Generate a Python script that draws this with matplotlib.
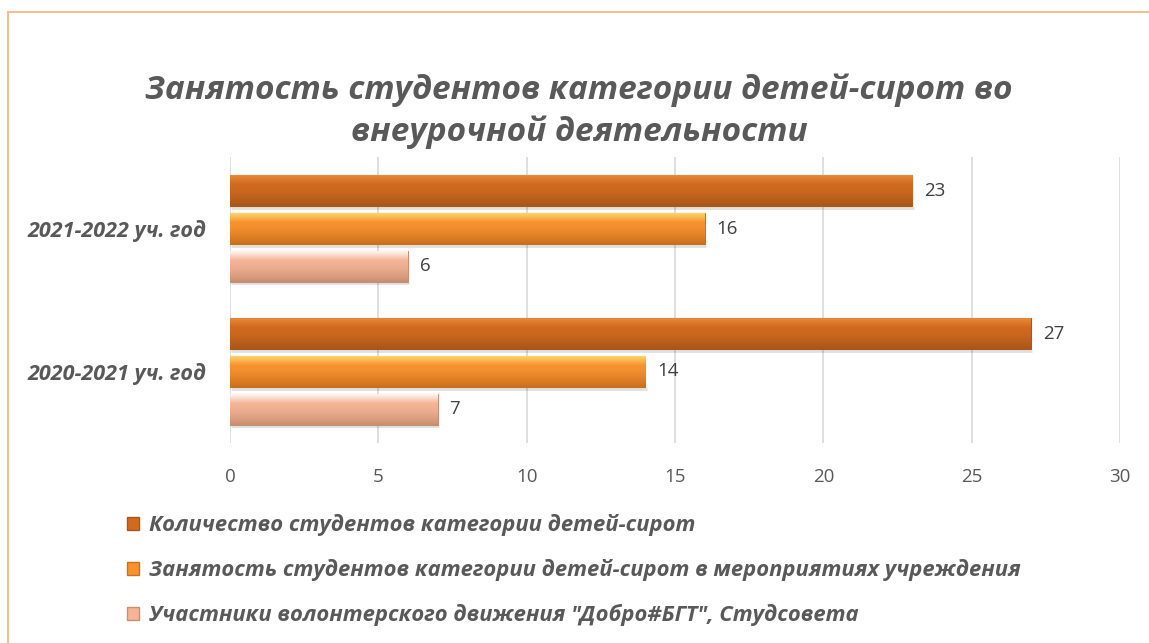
import matplotlib.pyplot as plt
import numpy as np
from matplotlib.patches import Rectangle, Patch
from matplotlib.colors import to_rgb

# data
years = ["2020-2021 уч. год", "2021-2022 уч. год"]
series_names = [
    "Количество студентов категории детей-сирот",
    "Занятость студентов категории детей-сирот в мероприятиях учреждения",
    "Участники волонтерского движения \"Добро#БГТ\", Студсовета",
]
total_orphans = [27, 23]
busy_events = [14, 16]
volunteers = [7, 6]

# colours: (top highlight, base, bottom shade)
shades = [
    ("#E8893A", "#D06A1E", "#A9561A"),
    ("#FFD46A", "#F7922F", "#C9701E"),
    ("#FFF6EC", "#F4B496", "#C98E72"),
]
grey = "#595959"
font = ["Open Sans", "DejaVu Sans"]

fig = plt.figure(figsize=(11.49, 6.43), dpi=100)
ax = fig.add_axes([230 / 1149, 1 - 443 / 643, 890 / 1149, 286 / 643])

# outer frame
fig.add_artist(Rectangle((8 / 1149, -0.1), 1.2, 1 - 12 / 643 + 0.1,
                         transform=fig.transFigure, fill=False,
                         edgecolor="#F7BE91", linewidth=1.5))

y = np.arange(len(years))
offsets = [0.265, 0.0, -0.265]
h = 0.215
all_series = [total_orphans, busy_events, volunteers]

for vals, off, sh in zip(all_series, offsets, shades):
    bars = ax.barh(y + off, vals, height=h, color=sh[1],
                   edgecolor=sh[2], linewidth=0.8, zorder=3)
    top, mid, bot = (np.array(to_rgb(c)) for c in sh)
    t = np.linspace(0, 1, 64)[:, None]
    grad = np.where(t < 0.3, top + (mid - top) * (t / 0.3),
                    mid + (bot - mid) * ((t - 0.3) / 0.7) ** 1.5)
    grad = grad[:, None, :].repeat(2, axis=1)
    for b, v in zip(bars, vals):
        x0, y0 = b.get_x(), b.get_y()
        im = ax.imshow(grad, extent=(x0, x0 + b.get_width(), y0, y0 + b.get_height()),
                       aspect="auto", origin="upper", zorder=3.5, interpolation="bilinear")
        im.set_clip_path(b)
        # shadow under bar
        ax.plot([x0 + 0.05, x0 + b.get_width() + 0.05],
                [y0 - 0.012, y0 - 0.012], color="#000000", alpha=0.12,
                linewidth=2, zorder=2.5, solid_capstyle="butt")
        ax.text(v + 0.4, b.get_y() + b.get_height() / 2, str(v),
                va="center", ha="left", fontsize=13.5, color="#404040",
                family=font, zorder=4)

ax.set_xlim(0, 30)
ax.set_ylim(-0.5, 1.5)
ax.set_xticks(range(0, 31, 5))
ax.set_yticks(y)
ax.set_yticklabels(years, family=font, fontsize=15.5, fontweight="bold",
                   fontstyle="italic", color=grey)
ax.tick_params(axis="x", labelsize=13.5, colors=grey, length=0, pad=18)
ax.tick_params(axis="y", length=0, pad=17)
for lab in ax.get_xticklabels():
    lab.set_family(font)
ax.grid(axis="x", color="#D9D9D9", linewidth=1.2, zorder=0)
for s in ax.spines.values():
    s.set_visible(False)

fig.text(579 / 1149, 1 - 111 / 643,
         "Занятость студентов категории детей-сирот во\nвнеурочной деятельности",
         ha="center", va="center", fontsize=24, fontweight="bold",
         fontstyle="italic", color=grey, family=font, linespacing=1.35)

handles = [Patch(facecolor=sh[1], edgecolor=sh[2]) for sh in shades]
leg = fig.legend(handles, series_names, loc="center left",
                 bbox_to_anchor=(107 / 1149, 1 - 570 / 643), frameon=False,
                 handlelength=0.55, handleheight=0.55, handletextpad=0.45,
                 labelspacing=1.05,
                 prop={"family": font, "size": 15.8, "weight": "bold", "style": "italic"})
for t in leg.get_texts():
    t.set_color(grey)

fig.savefig("out.png", dpi=100, facecolor="white")
